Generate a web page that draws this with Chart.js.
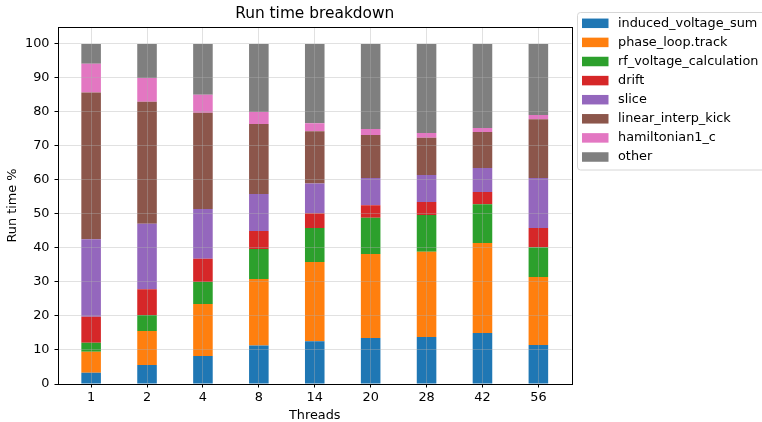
<!DOCTYPE html>
<html>
<head>
<meta charset="utf-8">
<script src="https://cdn.jsdelivr.net/npm/chart.js@4/dist/chart.umd.min.js"></script>
<style>
  html, body { margin: 0; padding: 0; background: #fff; }
  #wrap { width: 762px; height: 422px; position: relative; }
</style>
</head>
<body>
<div id="wrap"><canvas id="c" width="762" height="422"></canvas></div>
<script>
// Thread counts on the x axis
const threads = ['1', '2', '4', '8', '14', '20', '28', '42', '56'];

// Share of run time (%) per function, one value per thread count
const inducedVoltageSum     = [3.3, 5.6, 8.2, 11.3, 12.6, 13.5, 13.8, 15.0, 11.5];
const phaseLoopTrack        = [6.2, 10.0, 15.3, 19.6, 23.3, 24.7, 25.1, 26.5, 20.0];
const rfVoltageCalculation  = [2.6, 4.7, 6.5, 8.8, 10.0, 10.7, 10.8, 11.4, 8.7];
const drift                 = [7.7, 7.6, 6.8, 5.3, 4.3, 3.7, 3.8, 3.6, 5.7];
const slice                 = [22.8, 19.2, 14.7, 10.9, 8.8, 8.0, 8.0, 7.0, 14.7];
const linearInterpKick      = [43.1, 35.9, 28.3, 20.6, 15.3, 12.6, 10.9, 10.6, 17.3];
const hamiltonian1C         = [8.5, 7.0, 5.3, 3.5, 2.4, 1.8, 1.4, 1.2, 1.2];
const other                 = [5.8, 10.0, 14.9, 20.0, 23.3, 25.0, 26.2, 24.7, 20.9];

// y-axis tick values
const yTicks = [0, 10, 20, 30, 40, 50, 60, 70, 80, 90, 100];

const series = [
  ['induced_voltage_sum', inducedVoltageSum, '#1f77b4'],
  ['phase_loop.track', phaseLoopTrack, '#ff7f0e'],
  ['rf_voltage_calculation', rfVoltageCalculation, '#2ca02c'],
  ['drift', drift, '#d62728'],
  ['slice', slice, '#9467bd'],
  ['linear_interp_kick', linearInterpKick, '#8c564b'],
  ['hamiltonian1_c', hamiltonian1C, '#e377c2'],
  ['other', other, '#7f7f7f']
];

const FONT = "'DejaVu Sans', sans-serif";
const LABEL_SIZE = 12.85;
const TITLE_SIZE = 15.4;

Chart.defaults.font.family = FONT;
Chart.defaults.font.size = LABEL_SIZE;
Chart.defaults.color = '#000';

const gridColor = 'rgba(176,176,176,0.38)';

// Axes frame on all four sides, drawn last so it sits over the grid
const axesFrame = {
  id: 'axesFrame',
  afterDraw(chart) {
    const a = chart.chartArea, ctx = chart.ctx;
    const l = Math.round(a.left) + 0.5, r = Math.round(a.right) + 0.5;
    const t = Math.round(a.top) + 0.5, b = Math.round(a.bottom) + 0.5;
    ctx.save();
    ctx.strokeStyle = '#000';
    ctx.lineWidth = 1;
    ctx.strokeRect(l, t, r - l, b - t);
    ctx.restore();
  }
};

// Boxed legend to the right of the axes
const sideLegend = {
  id: 'sideLegend',
  afterDraw(chart) {
    const ctx = chart.ctx;
    const x0 = 577.5, y0 = 12.5, w = 200, h = 157.5, rad = 3;
    ctx.save();
    ctx.beginPath();
    ctx.moveTo(x0 + rad, y0);
    ctx.lineTo(x0 + w, y0);
    ctx.lineTo(x0 + w, y0 + h);
    ctx.lineTo(x0 + rad, y0 + h);
    ctx.arcTo(x0, y0 + h, x0, y0 + h - rad, rad);
    ctx.lineTo(x0, y0 + rad);
    ctx.arcTo(x0, y0, x0 + rad, y0, rad);
    ctx.closePath();
    ctx.fillStyle = 'rgba(255,255,255,0.8)';
    ctx.fill();
    ctx.strokeStyle = '#d6d6d6';
    ctx.lineWidth = 1;
    ctx.stroke();
    ctx.font = LABEL_SIZE + 'px ' + FONT;
    ctx.textBaseline = 'middle';
    ctx.textAlign = 'left';
    chart.data.datasets.forEach((d, i) => {
      const y = 23.3 + 19.1 * i;
      ctx.fillStyle = d.backgroundColor;
      ctx.fillRect(582, y - 4.75, 26.5, 9.5);
      ctx.fillStyle = '#000';
      ctx.fillText(d.label, 618, y);
    });
    ctx.restore();
  }
};

new Chart(document.getElementById('c'), {
  type: 'bar',
  data: {
    datasets: series.map(([label, values, color]) => ({
      label,
      data: values.map((v, i) => ({ x: i, y: v })),
      backgroundColor: color,
      borderWidth: 0,
      barPercentage: 0.35,
      categoryPercentage: 1.0
    }))
  },
  options: {
    responsive: false,
    animation: false,
    devicePixelRatio: 1,
    layout: { padding: { left: 0, right: 190.5, top: 0, bottom: 0 } },
    plugins: {
      legend: { display: false },
      tooltip: { enabled: false },
      title: {
        display: true,
        text: 'Run time breakdown',
        fullSize: false,
        color: '#000',
        font: { size: TITLE_SIZE, weight: 'normal' },
        padding: { top: 4.8, bottom: 3.7 }
      }
    },
    scales: {
      x: {
        type: 'linear',
        stacked: true,
        offset: false,
        min: -0.5925,
        max: 8.5925,
        afterBuildTicks: s => { s.ticks = threads.map((_, i) => ({ value: i })); },
        ticks: {
          autoSkip: false,
          maxRotation: 0,
          color: '#000',
          padding: 2.8,
          callback: v => threads[v]
        },
        grid: { offset: false, color: gridColor, z: 1, tickColor: '#000', tickLength: 3.5, tickWidth: 1, lineWidth: 1 },
        border: { display: false },
        title: { display: true, text: 'Threads', color: '#000', font: { size: LABEL_SIZE, lineHeight: 1 }, padding: { top: 0, bottom: 0 } },
        afterFit: s => { s.height = 38; }
      },
      y: {
        stacked: true,
        min: 0,
        max: 105,
        afterBuildTicks: s => { s.ticks = yTicks.map(v => ({ value: v })); },
        ticks: { color: '#000', padding: 5 },
        grid: { color: gridColor, z: 1, tickColor: '#000', tickLength: 3.5, tickWidth: 1, lineWidth: 1 },
        border: { display: false },
        title: { display: true, text: 'Run time %', color: '#000', font: { size: LABEL_SIZE }, padding: { top: 5.3, bottom: 0 } },
        afterFit: s => { s.width = 58; }
      }
    }
  },
  plugins: [axesFrame, sideLegend]
});
</script>
</body>
</html>
